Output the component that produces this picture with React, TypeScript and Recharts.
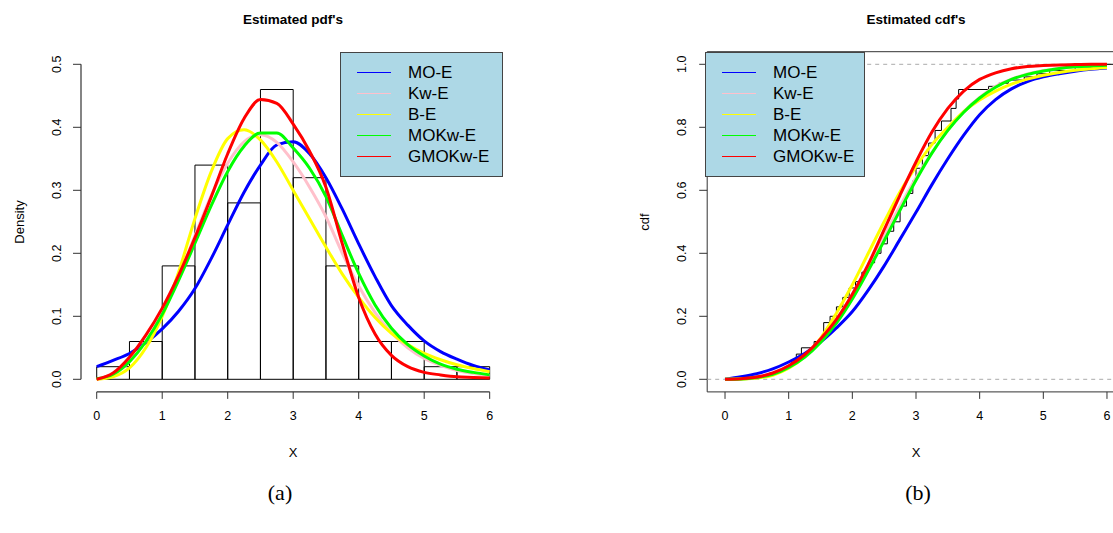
import React from 'react';
import { ComposedChart, Line, XAxis, YAxis, ReferenceArea, ReferenceLine } from 'recharts';

// grid of x values where the fitted curves were read
const xGrid = [0, 0.25, 0.5, 0.75, 1, 1.25, 1.5, 1.75, 2, 2.25, 2.5, 2.75, 3, 3.25, 3.5, 3.75, 4, 4.25, 4.5, 4.75, 5, 5.25, 5.5, 5.75, 6];

// fitted densities
const pdfMOE = [0.02, 0.03, 0.041, 0.058, 0.08, 0.108, 0.144, 0.192, 0.245, 0.297, 0.34, 0.372, 0.377, 0.358, 0.32, 0.27, 0.215, 0.163, 0.117, 0.086, 0.061, 0.044, 0.032, 0.022, 0.015];
const pdfKwE = [0, 0.007, 0.028, 0.06, 0.105, 0.163, 0.228, 0.292, 0.343, 0.377, 0.388, 0.376, 0.345, 0.305, 0.258, 0.2, 0.148, 0.106, 0.074, 0.05, 0.033, 0.022, 0.014, 0.009, 0.006];
const pdfBE = [0, 0.004, 0.018, 0.05, 0.1, 0.17, 0.255, 0.33, 0.382, 0.396, 0.38, 0.345, 0.3, 0.255, 0.21, 0.167, 0.13, 0.098, 0.073, 0.055, 0.041, 0.031, 0.023, 0.017, 0.012];
const pdfMOKwE = [0.001, 0.008, 0.028, 0.06, 0.103, 0.157, 0.216, 0.276, 0.33, 0.37, 0.391, 0.391, 0.367, 0.335, 0.29, 0.228, 0.168, 0.118, 0.081, 0.055, 0.037, 0.024, 0.016, 0.011, 0.007];
const pdfGMOKwE = [0, 0.01, 0.035, 0.07, 0.113, 0.165, 0.225, 0.29, 0.358, 0.414, 0.444, 0.438, 0.405, 0.362, 0.305, 0.215, 0.13, 0.072, 0.038, 0.02, 0.011, 0.007, 0.004, 0.003, 0.002];

// fitted cdfs
const cdfMOE = [0, 0.008, 0.018, 0.033, 0.055, 0.082, 0.118, 0.163, 0.215, 0.283, 0.36, 0.445, 0.53, 0.618, 0.7, 0.775, 0.84, 0.888, 0.922, 0.945, 0.96, 0.97, 0.978, 0.984, 0.988];
const cdfKwE = [0, 0.001, 0.006, 0.017, 0.04, 0.074, 0.124, 0.19, 0.27, 0.36, 0.455, 0.55, 0.64, 0.72, 0.79, 0.85, 0.895, 0.93, 0.953, 0.969, 0.98, 0.987, 0.992, 0.995, 0.997];
const cdfBE = [0, 0.001, 0.004, 0.013, 0.035, 0.072, 0.13, 0.21, 0.3, 0.4, 0.5, 0.595, 0.675, 0.745, 0.8, 0.85, 0.887, 0.915, 0.937, 0.953, 0.965, 0.974, 0.981, 0.986, 0.99];
const cdfMOKwE = [0, 0.001, 0.006, 0.016, 0.038, 0.07, 0.117, 0.178, 0.255, 0.345, 0.44, 0.537, 0.632, 0.718, 0.79, 0.848, 0.893, 0.927, 0.952, 0.968, 0.979, 0.987, 0.992, 0.995, 0.997];
const cdfGMOKwE = [0, 0.002, 0.007, 0.02, 0.043, 0.078, 0.128, 0.19, 0.27, 0.365, 0.475, 0.585, 0.69, 0.785, 0.86, 0.915, 0.952, 0.973, 0.986, 0.993, 0.996, 0.998, 0.999, 1, 1];

// histogram (bin width 0.5)
const binLo = [0, 0.5, 1, 1.5, 2, 2.5, 3, 3.5, 4, 4.5, 5, 5.5];
const binHi = [0.5, 1, 1.5, 2, 2.5, 3, 3.5, 4, 4.5, 5, 5.5, 6];
const density = [0.02, 0.06, 0.18, 0.34, 0.28, 0.46, 0.32, 0.18, 0.06, 0.06, 0.02, 0.02];

const ecdfX = [0.05, 0.25, 0.7, 0.85, 0.95, 1.05, 1.12, 1.2, 1.4, 1.5, 1.55, 1.65, 1.75, 1.85, 1.95, 2.05, 2.15, 2.25, 2.35, 2.45, 2.55, 2.65, 2.75, 2.85, 2.95, 3.0, 3.1, 3.2, 3.3, 3.4, 3.55, 3.63, 3.67, 4.14, 4.3, 4.45, 4.7, 4.9, 5.1, 5.5, 5.9, 6.2];
const ecdfF = [0, 0.01, 0.02, 0.03, 0.04, 0.06, 0.08, 0.1, 0.12, 0.13, 0.18, 0.2, 0.23, 0.26, 0.29, 0.31, 0.34, 0.37, 0.4, 0.43, 0.47, 0.5, 0.55, 0.59, 0.63, 0.67, 0.71, 0.75, 0.79, 0.82, 0.86, 0.89, 0.92, 0.93, 0.94, 0.95, 0.96, 0.97, 0.98, 0.99, 1, 1];

const xTicks = [0, 1, 2, 3, 4, 5, 6];
const pdfTicks = [0, 0.1, 0.2, 0.3, 0.4, 0.5];
const cdfTicks = [0, 0.2, 0.4, 0.6, 0.8, 1];

const seriesNames = ['MO-E', 'Kw-E', 'B-E', 'MOKw-E', 'GMOKw-E'];
const seriesKeys = ['moe', 'kwe', 'be', 'mokwe', 'gmokwe'];
const seriesColors = ['#0000FF', '#FFC0CB', '#FFFF00', '#00FF00', '#FF0000'];

const pdfRows = xGrid.map((x, i) => ({ x, moe: pdfMOE[i], kwe: pdfKwE[i], be: pdfBE[i], mokwe: pdfMOKwE[i], gmokwe: pdfGMOKwE[i] }));
const cdfRows = xGrid.map((x, i) => ({ x, moe: cdfMOE[i], kwe: cdfKwE[i], be: cdfBE[i], mokwe: cdfMOKwE[i], gmokwe: cdfGMOKwE[i] }));
const ecdfRows = ecdfX.map((x, i) => ({ x, F: ecdfF[i] }));

const FONT = '"Liberation Sans", Arial, sans-serif';
const AX = '#333';

// rotated y tick label, baseline placed at lx (chart-local)
const RotTick = (props: any) => {
  const { y, payload, lx } = props;
  return (
    <text x={lx} y={y} transform={`rotate(-90 ${lx} ${y})`} textAnchor="middle" fontSize={12.5} fill="#000" fontFamily={FONT}>
      {Number(payload.value).toFixed(1)}
    </text>
  );
};

function LegendBox({ left, top, width }: { left: number; top: number; width: number }) {
  return (
    <div style={{ position: 'absolute', left, top, width, height: 125, background: '#ADD8E6', border: '1px solid #444', boxSizing: 'border-box' }}>
      {seriesNames.map((n, i) => (
        <div key={n} style={{ position: 'absolute', left: 16, top: 9 + i * 21, height: 21, display: 'flex', alignItems: 'center' }}>
          <div style={{ width: 34, height: 1.5, background: seriesColors[i] }} />
          <span style={{ marginLeft: 17, fontSize: 17, fontFamily: FONT, color: '#000' }}>{n}</span>
        </div>
      ))}
    </div>
  );
}

const txt = (s: string, left: number, top: number, extra: React.CSSProperties = {}) => (
  <div style={{ position: 'absolute', left, top, transform: 'translate(-50%, -50%)', fontFamily: FONT, fontSize: 13, whiteSpace: 'nowrap', ...extra }}>{s}</div>
);

export default function App() {
  return (
    <div style={{ position: 'absolute', left: 0, top: 0, width: 1113, height: 533, overflow: 'hidden', background: '#fff' }}>
      {/* (a) pdf panel */}
      <div style={{ position: 'absolute', left: 0, top: 0 }}>
        <ComposedChart width={560} height={533} data={pdfRows} margin={{ top: 51.7, right: 54.6, bottom: 111.1, left: 21 }}>
          <XAxis type="number" dataKey="x" domain={[-0.24, 6.24]} ticks={xTicks} interval={0} allowDataOverflow axisLine={false}
            tickSize={7} tickMargin={12} tickLine={{ stroke: AX }} tick={{ fontSize: 12.5, fill: '#000', fontFamily: FONT }} height={30} />
          <YAxis type="number" domain={[-0.02, 0.52]} ticks={pdfTicks} interval={0} allowDataOverflow axisLine={false}
            tickSize={8} tickMargin={14} tickLine={{ stroke: AX }} tick={<RotTick lx={61.5} />} width={60} />
          {binLo.map((lo, i) => (
            <ReferenceArea key={i} x1={lo} x2={binHi[i]} y1={0} y2={density[i]} fill="none" stroke="#000" strokeWidth={1} ifOverflow="visible" />
          ))}
          <ReferenceLine segment={[{ x: 0, y: -0.02 }, { x: 6, y: -0.02 }]} stroke={AX} strokeWidth={1.2} ifOverflow="visible" />
          <ReferenceLine segment={[{ x: -0.24, y: 0 }, { x: -0.24, y: 0.5 }]} stroke={AX} strokeWidth={1.2} ifOverflow="visible" />
          {seriesKeys.map((k, i) => (
            <Line key={k} type="monotone" dataKey={k} stroke={seriesColors[i]} strokeWidth={3} dot={false} isAnimationActive={false} />
          ))}
        </ComposedChart>
      </div>
      <LegendBox left={340} top={52} width={163} />
      {txt("Estimated pdf's", 293, 19, { fontWeight: 'bold', fontSize: 13.5 })}
      {txt('X', 293, 452)}
      {txt('Density', 19, 222, { transform: 'translate(-50%, -50%) rotate(-90deg)' })}
      {txt('(a)', 280, 493, { fontFamily: '"Liberation Serif", "Times New Roman", serif', fontSize: 22 })}

      {/* (b) cdf panel */}
      <div style={{ position: 'absolute', left: 560, top: 0 }}>
        <ComposedChart width={620} height={533} data={cdfRows} margin={{ top: 51.7, right: 55.2, bottom: 111.1, left: 87.2 }}>
          <XAxis type="number" dataKey="x" domain={[-0.28, 6.28]} ticks={xTicks} interval={0} allowDataOverflow axisLine={false}
            tickSize={7} tickMargin={12} tickLine={{ stroke: AX }} tick={{ fontSize: 12.5, fill: '#000', fontFamily: FONT }} height={30} />
          <YAxis type="number" domain={[-0.04, 1.04]} ticks={cdfTicks} interval={0} allowDataOverflow axisLine={false}
            tickSize={8} tickMargin={14} tickLine={{ stroke: AX }} tick={<RotTick lx={126.5} />} width={60} />
          <ReferenceArea x1={-0.28} x2={6.28} y1={-0.04} y2={1.04} fill="none" stroke={AX} strokeWidth={1} ifOverflow="visible" />
          <ReferenceLine y={0} stroke="#aaa" strokeDasharray="4 4" />
          <ReferenceLine y={1} stroke="#aaa" strokeDasharray="4 4" />
          <Line data={ecdfRows} type="stepAfter" dataKey="F" stroke="#000" strokeWidth={1} dot={false} isAnimationActive={false} />
          {seriesKeys.map((k, i) => (
            <Line key={k} type="monotone" dataKey={k} stroke={seriesColors[i]} strokeWidth={3} dot={false} isAnimationActive={false} />
          ))}
        </ComposedChart>
      </div>
      <LegendBox left={705} top={52} width={160} />
      {txt("Estimated cdf's", 916, 19, { fontWeight: 'bold', fontSize: 13.5 })}
      {txt('X', 916, 452)}
      {txt('cdf', 644, 222, { transform: 'translate(-50%, -50%) rotate(-90deg)' })}
      {txt('(b)', 918, 493, { fontFamily: '"Liberation Serif", "Times New Roman", serif', fontSize: 22 })}
    </div>
  );
}
